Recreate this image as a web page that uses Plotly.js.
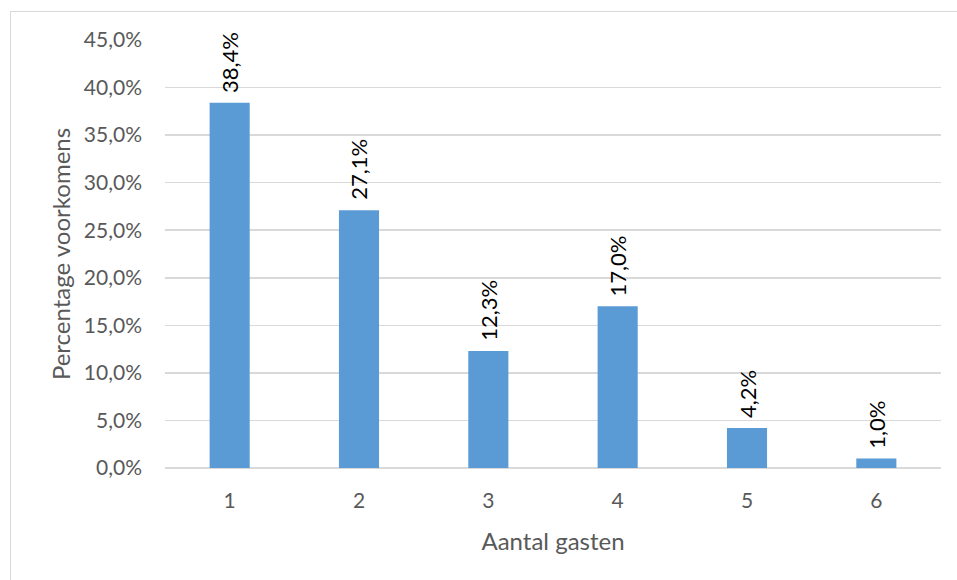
<!DOCTYPE html>
<html>
<head>
<meta charset="utf-8">
<script src="https://cdn.plot.ly/plotly-3.0.1.min.js"></script>
<style>
  html, body { margin: 0; padding: 0; background: #ffffff; }
  #frame { position: absolute; left: 10px; top: 11px; width: 960px; height: 580px; border-left: 1px solid #d9d9d9; border-top: 1px solid #d9d9d9; }
  #chart { position: absolute; left: 0; top: 0; width: 957px; height: 580px; }
</style>
</head>
<body>
<div id="frame"></div>
<div id="chart"></div>
<script>
const categories = ["1", "2", "3", "4", "5", "6"];
const values = [0.384, 0.271, 0.123, 0.170, 0.042, 0.010];
const yTickValues = [0, 0.05, 0.10, 0.15, 0.20, 0.25, 0.30, 0.35, 0.40, 0.45];

const fontFamily = "Lato, 'Open Sans', sans-serif";

const trace = {
  type: "bar",
  x: categories,
  y: values,
  marker: { color: "#5b9bd5" },
  hoverinfo: "none"
};

const fmt = v => (v * 100).toFixed(1).replace(".", ",") + "%";
const annotations = categories.map((c, i) => ({
  x: i,
  y: values[i],
  xref: "x",
  yref: "y",
  text: fmt(values[i]),
  textangle: -90,
  showarrow: false,
  xanchor: "center",
  yanchor: "bottom",
  yshift: 8,
  font: { family: fontFamily, size: 22, color: "#000000" }
}));

const layout = {
  width: 957,
  height: 580,
  margin: { l: 165, r: 16, t: 40, b: 112 },
  paper_bgcolor: "rgba(0,0,0,0)",
  plot_bgcolor: "rgba(0,0,0,0)",
  separators: ",.",
  bargap: 0.69,
  showlegend: false,
  annotations: annotations,
  font: { family: fontFamily, color: "#595959" },
  xaxis: {
    type: "category",
    range: [-0.5, 5.5],
    showgrid: false,
    showline: false,
    zeroline: false,
    ticks: "",
    ticklabelstandoff: 18,
    tickfont: { family: fontFamily, size: 21, color: "#595959" },
    title: { text: "Aantal gasten", font: { family: fontFamily, size: 24, color: "#595959" }, standoff: 22 }
  },
  yaxis: {
    range: [0, 0.45],
    tickvals: yTickValues,
    tickformat: ".1%",
    showgrid: true,
    gridcolor: "#d9d9d9",
    gridwidth: 1.5,
    zeroline: true,
    zerolinecolor: "#d9d9d9",
    zerolinewidth: 1.5,
    showline: false,
    ticks: "",
    ticklabelstandoff: 22,
    tickfont: { family: fontFamily, size: 21, color: "#595959" },
    title: { text: "Percentage voorkomens", font: { family: fontFamily, size: 24, color: "#595959" }, standoff: 6 }
  }
};

Plotly.newPlot("chart", [trace], layout, { displayModeBar: false, staticPlot: true });
</script>
</body>
</html>
